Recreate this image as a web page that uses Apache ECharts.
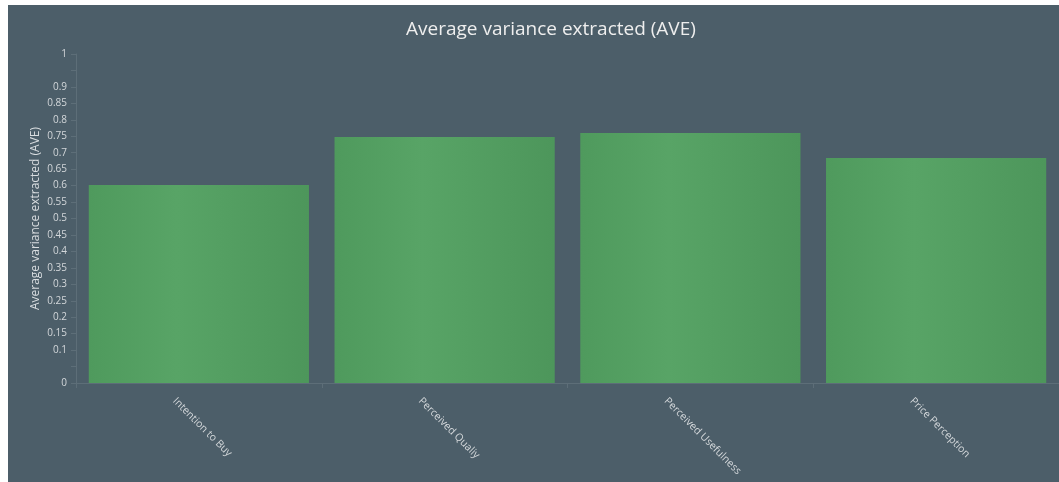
<!DOCTYPE html>
<html>
<head>
<meta charset="utf-8">
<script src="https://cdn.jsdelivr.net/npm/echarts@6/dist/echarts.min.js"></script>
<style>
html,body{margin:0;padding:0;background:#ffffff;width:1059px;height:482px;overflow:hidden;}
#chart{position:absolute;left:8px;top:5px;width:1051px;height:477px;background:#4c5e69;}
</style>
</head>
<body>
<div id="chart"></div>
<script>
const titleText = 'Average variance extracted (AVE)';
const yAxisName = 'Average variance extracted (AVE)';
const categories = ['Intention to Buy', 'Perceived Qualiy', 'Perceived Usefulness', 'Price Perception'];
const aveValues = [0.602, 0.748, 0.760, 0.684];
const hiddenTicks = ['0.05', '0.95'];

const chart = echarts.init(document.getElementById('chart'), null, {renderer: 'canvas'});
const barGradient = new echarts.graphic.LinearGradient(0, 0, 1, 0, [
  {offset: 0, color: '#4f9a5d'},
  {offset: 0.4, color: '#58a466'},
  {offset: 1, color: '#4d965b'}
]);
chart.setOption({
  backgroundColor: '#4c5e69',
  animation: false,
  title: {
    text: titleText,
    left: 393,
    top: 10,
    textStyle: {color: '#eeeeee', fontSize: 19, fontWeight: 'normal', fontFamily: 'Open Sans'}
  },
  grid: {left: 68, top: 49, width: 987, height: 329, containLabel: false},
  xAxis: {
    type: 'category',
    data: categories,
    axisLine: {show: true, lineStyle: {color: '#5d6e78', width: 1}},
    axisTick: {show: true, alignWithLabel: false, length: 5, lineStyle: {color: '#5d6e78'}},
    axisLabel: {
      rotate: -45,
      color: '#d3d7da',
      fontSize: 10.5,
      fontFamily: 'Open Sans',
      margin: -8,
      align: 'left',
      verticalAlign: 'top',
      padding: [29, 0, 0, 0]
    }
  },
  yAxis: {
    type: 'value',
    min: 0,
    max: 1,
    interval: 0.05,
    name: yAxisName,
    nameLocation: 'middle',
    nameGap: 34,
    nameMoveOverlap: false,
    nameTextStyle: {color: '#d9dde0', fontSize: 12, fontFamily: 'Open Sans'},
    axisLine: {show: true, lineStyle: {color: '#5d6e78', width: 1}},
    axisTick: {show: true, length: 5, lineStyle: {color: '#5d6e78'}},
    splitLine: {show: false},
    axisLabel: {
      color: '#d3d7da',
      fontSize: 10,
      fontFamily: 'Open Sans',
      margin: 9,
      formatter: function (v) {
        const s = String(Math.round(v * 100) / 100);
        return hiddenTicks.indexOf(s) >= 0 ? '' : s;
      }
    }
  },
  series: [{
    type: 'bar',
    data: aveValues,
    barCategoryGap: '10.4%',
    itemStyle: {color: barGradient}
  }]
});
</script>
</body>
</html>
